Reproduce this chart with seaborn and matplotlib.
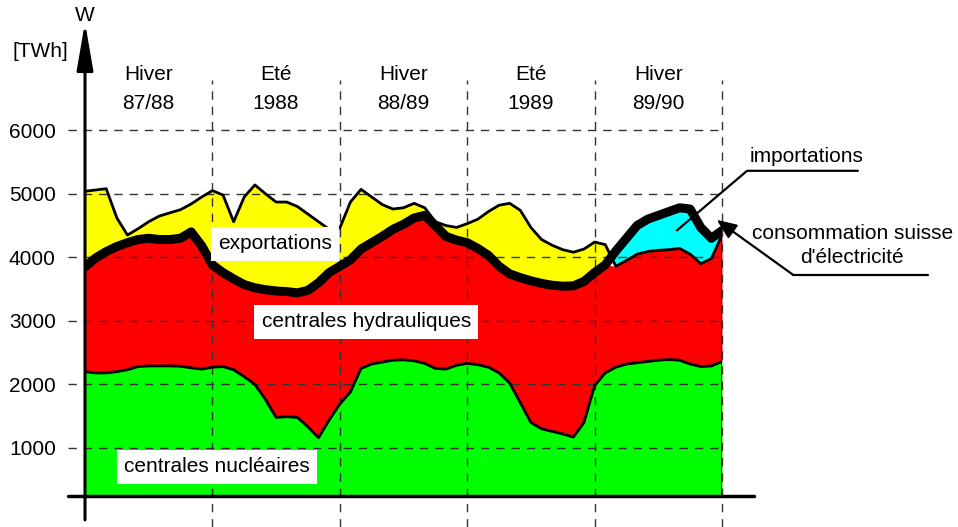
import numpy as np
import pandas as pd
import matplotlib
matplotlib.use('Agg')
import matplotlib.pyplot as plt
import seaborn as sns

# half-month steps, oct 1987 -> oct 1990 (30 months)
months = np.arange(61) * 0.5

nucleaire = [2200, 2180, 2180, 2200, 2230, 2280, 2290, 2290, 2290, 2285,
             2260, 2240, 2270, 2280, 2230, 2120, 2000, 1760, 1480, 1490,
             1480, 1330, 1160, 1440, 1690, 1880, 2250, 2320, 2350, 2380,
             2385, 2370, 2330, 2250, 2240, 2300, 2330, 2310, 2270, 2180,
             2020, 1710, 1400, 1300, 1260, 1220, 1170, 1400, 1980, 2180,
             2270, 2320, 2340, 2360, 2380, 2390, 2380, 2320, 2280, 2290, 2360]

production = [5040, 5060, 5080, 4620, 4350, 4450, 4560, 4650, 4700, 4750,
              4840, 4950, 5050, 4980, 4560, 4950, 5140, 5000, 4870, 4870,
              4800, 4680, 4560, 4440, 4460, 4870, 5070, 4950, 4830, 4760,
              4780, 4850, 4780, 4560, 4500, 4470, 4530, 4600, 4720, 4820,
              4850, 4740, 4470, 4280, 4190, 4120, 4080, 4130, 4240, 4200,
              3860, 3950, 4050, 4090, 4110, 4120, 4140, 4050, 3900, 3980, 4350]

consommation = [3850, 3990, 4090, 4170, 4230, 4280, 4300, 4280, 4280, 4300,
                4400, 4180, 3880, 3760, 3660, 3570, 3520, 3490, 3470, 3460,
                3440, 3480, 3600, 3760, 3860, 3960, 4130, 4230, 4330, 4440,
                4520, 4620, 4660, 4500, 4330, 4270, 4230, 4140, 4030, 3860,
                3740, 3680, 3630, 3590, 3560, 3545, 3550, 3620, 3760, 3880,
                4100, 4300, 4500, 4600, 4660, 4720, 4780, 4760, 4470, 4300, 4420]

saisons = ['Hiver', 'Eté', 'Hiver', 'Eté', 'Hiver']
annees = ['87/88', '1988', '88/89', '1989', '89/90']
y_ticks = [1000, 2000, 3000, 4000, 5000, 6000]

df = pd.DataFrame({'mois': months, 'N': nucleaire, 'P': production, 'C': consommation})

sns.set_style('white')
plt.rcParams['font.family'] = ['Liberation Sans', 'DejaVu Sans']
plt.rcParams['text.color'] = 'black'
plt.rcParams['ytick.color'] = 'black'

fig = plt.figure(figsize=(9.58, 5.27), dpi=100)
ax = fig.add_axes([85 / 958, 1 - 495.5 / 527, 637 / 958, 460.5 / 527])
ax.set_xlim(0, 30)
ax.set_ylim(250, 7500)

x = df['mois'].values
N = df['N'].values
P = df['P'].values
C = df['C'].values

ax.fill_between(x, 250, N, color='#00ff00', lw=0, zorder=1)
ax.fill_between(x, N, np.minimum(P, C), color='#ff0000', lw=0, zorder=1)
ax.fill_between(x, C, P, where=P >= C, interpolate=True, color='#ffff00', lw=0, zorder=1)
ax.fill_between(x, P, C, where=C > P, interpolate=True, color='#00ffff', lw=0, zorder=1)

# grid
dash = dict(color='#333333', lw=1, dashes=(6, 5), zorder=2, clip_on=False)
for v in y_ticks:
    ax.plot([-0.8, 30], [v, v], **dash)
for m in [6, 12, 18, 24, 30]:
    ax.plot([m, m], [-244, 6795], **dash)

sns.lineplot(data=df, x='mois', y='N', color='black', lw=2, ax=ax, zorder=3)
sns.lineplot(data=df, x='mois', y='P', color='black', lw=2, ax=ax, zorder=3)
ax.plot([30, 30], [250, C[-1]], color='black', lw=2, zorder=3)
sns.lineplot(data=df, x='mois', y='C', color='black', lw=6.5, ax=ax, zorder=4)

# axes
ax.plot([-0.8, 31.5], [250, 250], color='black', lw=2.5, clip_on=False, zorder=5)
ax.annotate('', xy=(0, 7700), xytext=(0, -134), annotation_clip=False,
            arrowprops=dict(arrowstyle='-|>,head_length=2.9,head_width=0.5',
                            mutation_scale=10, lw=2.2, color='black',
                            shrinkA=0, shrinkB=0), zorder=5)
ax.text(0, 7800, 'W', ha='center', va='center', fontsize=15)
ax.text(-2.12, 7236, '[TWh]', ha='center', va='center', fontsize=15)

for i, (s, a) in enumerate(zip(saisons, annees)):
    ax.text(3 + 6 * i, 6874, s, ha='center', va='center', fontsize=15)
    ax.text(3 + 6 * i, 6417, a, ha='center', va='center', fontsize=15)

ax.set_yticks(y_ticks)
ax.set_yticklabels([str(v) for v in y_ticks], fontsize=15)
ax.tick_params(axis='y', length=0, pad=21, colors='black')
ax.set_xticks([])
ax.set_xlabel('')
ax.set_ylabel('')
sns.despine(ax=ax, left=True, bottom=True)

box = dict(boxstyle='square,pad=0.35', fc='white', ec='none')
ax.text(8.95, 4213, 'exportations', ha='center', va='center', fontsize=15, bbox=box, zorder=6)
ax.text(13.24, 2984, 'centrales hydrauliques', ha='center', va='center', fontsize=15, bbox=box, zorder=6)
ax.text(6.22, 701, 'centrales nucléaires', ha='center', va='center', fontsize=15, bbox=box, zorder=6)

# leaders
ax.text(33.96, 5583, 'importations', ha='center', va='center', fontsize=15)
ax.plot([27.88, 31.18, 36.4], [4424, 5362, 5362], color='black', lw=1.6, clip_on=False, zorder=6)
ax.text(36.13, 4378, 'consommation suisse', ha='center', va='center', fontsize=15)
ax.text(36.13, 4000, "d'électricité", ha='center', va='center', fontsize=15)
ax.annotate('', xy=(29.75, 4590), xytext=(33.35, 3724), annotation_clip=False,
            arrowprops=dict(arrowstyle='-|>,head_length=1.2,head_width=0.5',
                            mutation_scale=10, lw=1.6, color='black',
                            shrinkA=0, shrinkB=0), zorder=6)
ax.plot([33.35, 39.7], [3724, 3724], color='black', lw=1.6, clip_on=False, zorder=6)

fig.savefig('out.png', dpi=100)
